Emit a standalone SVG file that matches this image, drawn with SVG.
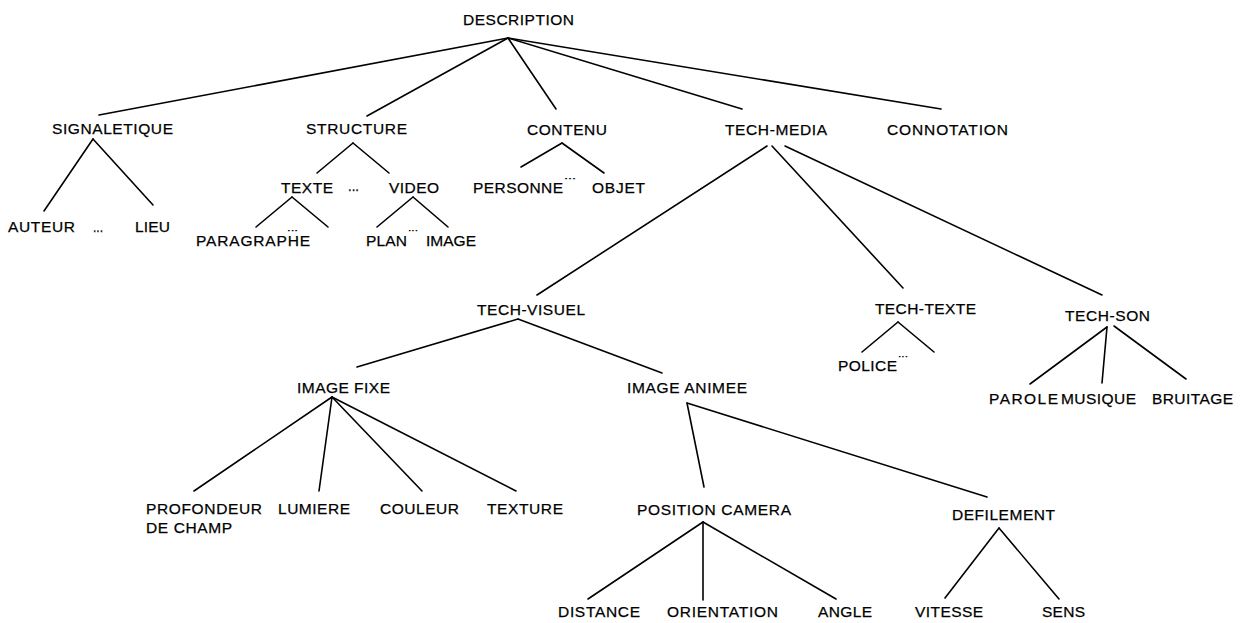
<svg xmlns="http://www.w3.org/2000/svg" width="1241" height="623" viewBox="0 0 1241 623">
<style>
text{font-family:"Liberation Sans",Arial,sans-serif;font-size:15.5px;fill:#000;stroke:#000;stroke-width:0.25}
.d{font-size:14px}
.s{font-size:9px}
#connectors line{stroke:#000;stroke-width:1.6;stroke-linecap:round}
</style>
<rect width="1241" height="623" fill="#fff"/>
<g id="connectors">
<line x1="508" y1="38" x2="99" y2="115"/>
<line x1="508" y1="38" x2="367" y2="116"/>
<line x1="508" y1="38" x2="556" y2="109"/>
<line x1="508" y1="38" x2="742" y2="109"/>
<line x1="508" y1="38" x2="941" y2="109"/>
<line x1="93" y1="139" x2="44" y2="211"/>
<line x1="93" y1="139" x2="153" y2="205"/>
<line x1="353" y1="143" x2="317" y2="173"/>
<line x1="353" y1="143" x2="389" y2="173"/>
<line x1="292" y1="197" x2="256" y2="227"/>
<line x1="292" y1="197" x2="328" y2="227"/>
<line x1="413" y1="197" x2="377" y2="227"/>
<line x1="413" y1="197" x2="448" y2="227"/>
<line x1="562" y1="143" x2="521" y2="167"/>
<line x1="562" y1="143" x2="604" y2="173"/>
<line x1="767" y1="146" x2="537" y2="295"/>
<line x1="772" y1="146" x2="903" y2="288"/>
<line x1="785" y1="146" x2="1102" y2="295"/>
<line x1="518" y1="319" x2="357" y2="367"/>
<line x1="518" y1="319" x2="662" y2="373"/>
<line x1="332" y1="397" x2="194" y2="491"/>
<line x1="332" y1="397" x2="319" y2="491"/>
<line x1="332" y1="397" x2="422" y2="491"/>
<line x1="332" y1="397" x2="516" y2="491"/>
<line x1="687" y1="403" x2="704" y2="487"/>
<line x1="687" y1="403" x2="987" y2="497"/>
<line x1="703" y1="522" x2="588" y2="599"/>
<line x1="703" y1="522" x2="703" y2="600"/>
<line x1="703" y1="522" x2="836" y2="599"/>
<line x1="999" y1="528" x2="945" y2="598"/>
<line x1="999" y1="528" x2="1059" y2="599"/>
<line x1="898" y1="322" x2="862" y2="352"/>
<line x1="898" y1="322" x2="934" y2="352"/>
<line x1="1107" y1="327" x2="1030" y2="384"/>
<line x1="1107" y1="327" x2="1102" y2="383"/>
<line x1="1114" y1="326" x2="1186" y2="379"/>
</g>
<g id="n-description"><text x="463" y="25" textLength="111" lengthAdjust="spacing">DESCRIPTION</text></g>
<g id="n-signaletique"><text x="52" y="134" textLength="121" lengthAdjust="spacing">SIGNALETIQUE</text></g>
<g id="n-structure"><text x="306" y="134" textLength="101" lengthAdjust="spacing">STRUCTURE</text></g>
<g id="n-contenu"><text x="527" y="135" textLength="80" lengthAdjust="spacing">CONTENU</text></g>
<g id="n-techmedia"><text x="725" y="135" textLength="102" lengthAdjust="spacing">TECH-MEDIA</text></g>
<g id="n-connotation"><text x="887" y="135" textLength="121" lengthAdjust="spacing">CONNOTATION</text></g>
<g id="n-auteur"><text x="8" y="232" textLength="67" lengthAdjust="spacing">AUTEUR</text></g>
<g id="e-sig"><text class="d" x="93" y="232" textLength="10" lengthAdjust="spacingAndGlyphs">...</text></g>
<g id="n-lieu"><text x="135" y="232" textLength="35" lengthAdjust="spacing">LIEU</text></g>
<g id="n-texte"><text x="281" y="193" textLength="52" lengthAdjust="spacing">TEXTE</text></g>
<g id="e-struct"><text class="d" x="348" y="191" textLength="11" lengthAdjust="spacingAndGlyphs">...</text></g>
<g id="n-video"><text x="389" y="193" textLength="50" lengthAdjust="spacing">VIDEO</text></g>
<g id="n-paragraphe"><text x="196" y="246" textLength="114" lengthAdjust="spacing">PARAGRAPHE</text></g>
<g id="e-texte"><text class="s" x="287" y="231" textLength="11" lengthAdjust="spacingAndGlyphs">...</text></g>
<g id="n-plan"><text x="366" y="246" textLength="41" lengthAdjust="spacing">PLAN</text></g>
<g id="e-video"><text class="s" x="408" y="231" textLength="10" lengthAdjust="spacingAndGlyphs">...</text></g>
<g id="n-image"><text x="426" y="246" textLength="50" lengthAdjust="spacing">IMAGE</text></g>
<g id="n-personne"><text x="473" y="193" textLength="90" lengthAdjust="spacing">PERSONNE</text></g>
<g id="e-contenu"><text class="s" x="564" y="179" textLength="12" lengthAdjust="spacingAndGlyphs">...</text></g>
<g id="n-objet"><text x="592" y="193" textLength="53" lengthAdjust="spacing">OBJET</text></g>
<g id="n-techvisuel"><text x="477" y="315" textLength="108" lengthAdjust="spacing">TECH-VISUEL</text></g>
<g id="n-techtexte"><text x="875" y="314" textLength="101" lengthAdjust="spacing">TECH-TEXTE</text></g>
<g id="n-techson"><text x="1065" y="321" textLength="85" lengthAdjust="spacing">TECH-SON</text></g>
<g id="n-police"><text x="838" y="371" textLength="59" lengthAdjust="spacing">POLICE</text></g>
<g id="e-police"><text class="s" x="898" y="357" textLength="10" lengthAdjust="spacingAndGlyphs">...</text></g>
<g id="n-parole"><text x="989" y="404" textLength="69" lengthAdjust="spacing">PAROLE</text></g>
<g id="n-musique"><text x="1061" y="404" textLength="75" lengthAdjust="spacing">MUSIQUE</text></g>
<g id="n-bruitage"><text x="1152" y="404" textLength="81" lengthAdjust="spacing">BRUITAGE</text></g>
<g id="n-imagefixe"><text x="297" y="393" textLength="93" lengthAdjust="spacing">IMAGE FIXE</text></g>
<g id="n-imageanimee"><text x="627" y="393" textLength="120" lengthAdjust="spacing">IMAGE ANIMEE</text></g>
<g id="n-profondeur"><text x="146" y="514" textLength="116" lengthAdjust="spacing">PROFONDEUR</text><text x="146" y="533" textLength="86" lengthAdjust="spacing">DE CHAMP</text></g>
<g id="n-lumiere"><text x="278" y="514" textLength="72" lengthAdjust="spacing">LUMIERE</text></g>
<g id="n-couleur"><text x="380" y="514" textLength="79" lengthAdjust="spacing">COULEUR</text></g>
<g id="n-texture"><text x="487" y="514" textLength="76" lengthAdjust="spacing">TEXTURE</text></g>
<g id="n-positioncamera"><text x="637" y="515" textLength="154" lengthAdjust="spacing">POSITION CAMERA</text></g>
<g id="n-defilement"><text x="952" y="520" textLength="103" lengthAdjust="spacing">DEFILEMENT</text></g>
<g id="n-distance"><text x="558" y="617" textLength="82" lengthAdjust="spacing">DISTANCE</text></g>
<g id="n-orientation"><text x="667" y="617" textLength="111" lengthAdjust="spacing">ORIENTATION</text></g>
<g id="n-angle"><text x="818" y="617" textLength="54" lengthAdjust="spacing">ANGLE</text></g>
<g id="n-vitesse"><text x="915" y="617" textLength="68" lengthAdjust="spacing">VITESSE</text></g>
<g id="n-sens"><text x="1042" y="617" textLength="43" lengthAdjust="spacing">SENS</text></g>
</svg>
